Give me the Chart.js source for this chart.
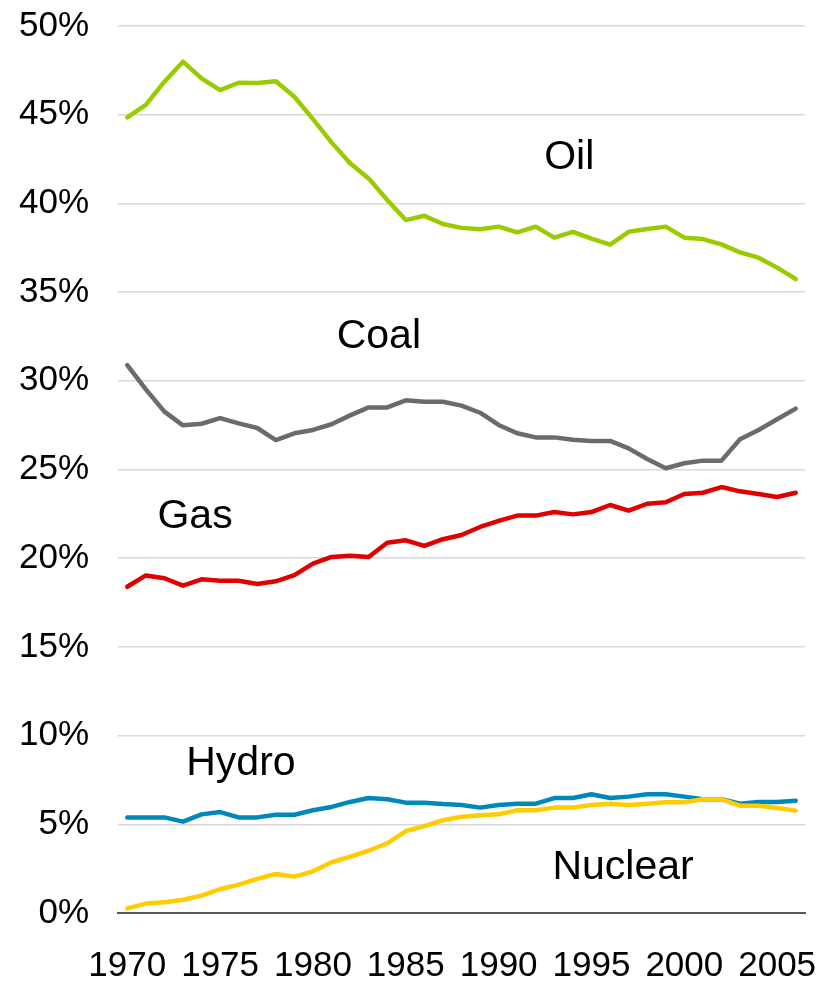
<!DOCTYPE html>
<html>
<head>
<meta charset="utf-8">
<script src="https://cdn.jsdelivr.net/npm/chart.js@4"></script>
<style>
  html, body { margin: 0; padding: 0; background: #fff; }
  #wrap { width: 830px; height: 982px; }
</style>
</head>
<body>
<div id="wrap"><canvas id="chart"></canvas></div>
<script>
// share of world primary energy, %
const years = [];
for (let y = 1970; y <= 2006; y++) years.push(String(y));

const oil = [44.85, 45.55, 46.86, 47.99, 47.05, 46.39, 46.8, 46.79, 46.88, 46.01,
  44.75, 43.44, 42.26, 41.41, 40.19, 39.06, 39.3, 38.84, 38.62, 38.54,
  38.69, 38.37, 38.69, 38.07, 38.39, 38.01, 37.67, 38.4, 38.56, 38.69,
  38.07, 37.99, 37.69, 37.24, 36.94, 36.38, 35.74];
const coal = [30.89, 29.52, 28.26, 27.49, 27.58, 27.9, 27.6, 27.34, 26.66, 27.04,
  27.23, 27.55, 28.05, 28.5, 28.5, 28.9, 28.82, 28.82, 28.6, 28.2,
  27.51, 27.04, 26.81, 26.81, 26.68, 26.61, 26.61, 26.19, 25.59, 25.07,
  25.35, 25.5, 25.5, 26.7, 27.23, 27.83, 28.43];
const gas = [18.39, 19.03, 18.87, 18.45, 18.81, 18.73, 18.73, 18.55, 18.7, 19.05,
  19.69, 20.07, 20.14, 20.07, 20.87, 21.01, 20.69, 21.07, 21.31, 21.76,
  22.1, 22.4, 22.4, 22.6, 22.47, 22.6, 23.0, 22.68, 23.07, 23.15,
  23.62, 23.69, 24.01, 23.77, 23.62, 23.45, 23.69];
const nuclear = [0.26, 0.53, 0.6, 0.75, 0.98, 1.34, 1.6, 1.92, 2.2, 2.05,
  2.35, 2.86, 3.17, 3.51, 3.93, 4.62, 4.9, 5.23, 5.43, 5.51,
  5.56, 5.79, 5.79, 5.94, 5.94, 6.09, 6.16, 6.09, 6.16, 6.24,
  6.24, 6.41, 6.41, 6.05, 6.05, 5.92, 5.77];
const hydro = [5.39, 5.39, 5.39, 5.15, 5.56, 5.69, 5.39, 5.39, 5.54, 5.54,
  5.79, 5.98, 6.26, 6.48, 6.41, 6.22, 6.22, 6.14, 6.09, 5.94,
  6.09, 6.16, 6.16, 6.48, 6.48, 6.69, 6.48, 6.56, 6.69, 6.69,
  6.56, 6.41, 6.41, 6.16, 6.26, 6.26, 6.33];

// series name labels, placed in data units (fractional year index, %)
const labelNames = ['Oil', 'Coal', 'Gas', 'Hydro', 'Nuclear'];
const labelAt = [[23.8, 42.56], [13.55, 32.47], [3.65, 22.32], [6.12, 8.4], [26.7, 2.54]];

const FONT = "'Liberation Sans', Arial, sans-serif";

const seriesLabels = {
  id: 'seriesLabels',
  afterDatasetsDraw(chart) {
    const { ctx, scales: { x, y } } = chart;
    ctx.save();
    ctx.fillStyle = '#000';
    ctx.font = '41px ' + FONT;
    ctx.textAlign = 'center';
    ctx.textBaseline = 'middle';
    labelNames.forEach((name, i) => {
      ctx.fillText(name, x.getPixelForValue(labelAt[i][0]), y.getPixelForValue(labelAt[i][1]));
    });
    ctx.restore();
  }
};

const line = (label, data, color) => ({
  label, data,
  borderColor: color,
  borderWidth: 4.5,
  pointRadius: 0,
  tension: 0,
  fill: false,
  borderJoinStyle: 'round',
  borderCapStyle: 'round'
});

new Chart(document.getElementById('chart'), {
  type: 'line',
  data: {
    labels: years,
    datasets: [
      line('Oil', oil, '#99CC00'),
      line('Coal', coal, '#6B6B6B'),
      line('Gas', gas, '#E00000'),
      line('Nuclear', nuclear, '#FFCC00'),
      line('Hydro', hydro, '#0088BB')
    ]
  },
  options: {
    responsive: true,
    maintainAspectRatio: false,
    animation: false,
    layout: { padding: { top: 26, right: 25, left: 0, bottom: 0 } },
    plugins: { legend: { display: false }, tooltip: { enabled: false } },
    scales: {
      x: {
        offset: true,
        grid: { display: false, drawTicks: false },
        border: { display: true, color: '#595959', width: 2 },
        ticks: {
          autoSkip: false, maxRotation: 0, color: '#000', padding: 32,
          font: { family: FONT, size: 35 },
          callback(v, i) { const yr = +years[i]; return yr % 5 === 0 ? String(yr) : ''; }
        },
        afterFit(s) { s.height = 69; s.paddingLeft = 0; s.paddingRight = 0; }
      },
      y: {
        min: 0, max: 50,
        grid: { color: '#D9D9D9', lineWidth: 1.5, drawTicks: false },
        border: { display: false },
        ticks: {
          stepSize: 5, color: '#000', padding: 29,
          font: { family: FONT, size: 35 },
          callback: v => v + '%'
        },
        afterFit(s) { s.width = 118; s.paddingTop = 0; s.paddingBottom = 0; }
      }
    }
  },
  plugins: [seriesLabels]
});
</script>
</body>
</html>
